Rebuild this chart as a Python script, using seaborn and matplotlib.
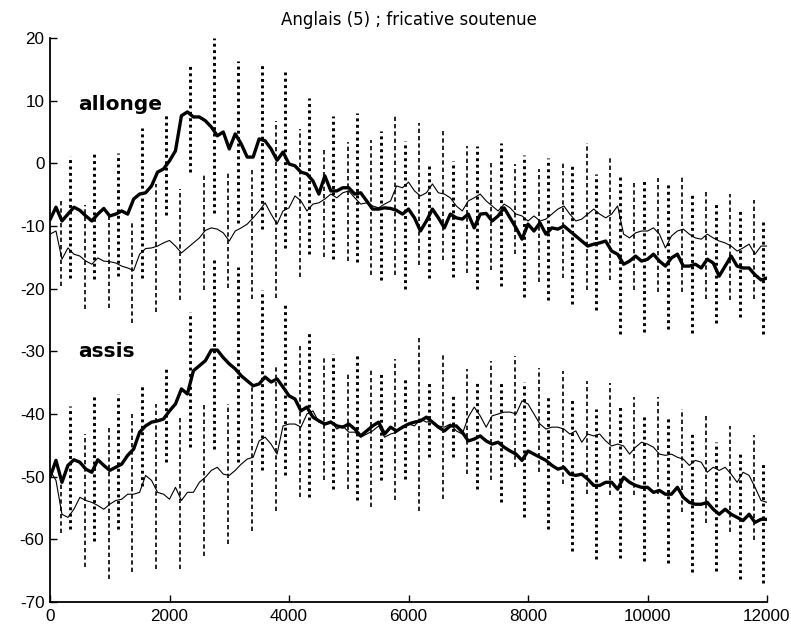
import numpy as np
import pandas as pd
import seaborn as sns
import matplotlib
matplotlib.use("Agg")
import matplotlib.pyplot as plt

# ---------------- data ----------------
freq = list(range(0, 12001, 100))

allonge_thick = [
    -9, -7, -9.2, -8.1, -7, -7.5, -8.4, -9.2, -8.1, -7.2,
    -8.4, -8.1, -7.6, -8.1, -5.7, -4.9, -4.7, -3.6, -1.4, -0.9,
    0.4, 2, 7.6, 8.2, 7.4, 7.4, 6.8, 5.8, 4.4, 5,
    2.3, 4.7, 3.1, 1, 1, 3.9, 3.6, 2.3, 0.5, 1.8,
    -0.1, -0.4, -1.4, -1.7, -2.8, -4.9, -2, -4.4, -4.4, -3.9,
    -3.9, -4.9, -4.7, -6, -7.3, -7.3, -7.1, -7.2, -7.5, -8.1,
    -7.3, -8.7, -10.8, -9.2, -7.3, -8.7, -10.3, -8.1, -8.7, -8.9,
    -8.1, -10.3, -8.1, -8, -9.2, -8.4, -7.1, -8.7, -10.3, -12.1,
    -9.7, -10.8, -9.5, -11.3, -10.3, -10.5, -10, -10.8, -11.6, -12.4,
    -13.2, -12.9, -12.7, -12.4, -14, -14.5, -16.1, -15.6, -14.8, -15.6,
    -15.3, -14.5, -15.6, -16.4, -15.1, -14.5, -16.4, -16.4, -16.1, -16.7,
    -15.3, -15.9, -18, -16.4, -14.8, -16.4, -16.7, -16.7, -17.8, -18.6,
    -18.3,
]
allonge_thin = [
    -11.3, -10.8, -15.3, -13.5, -14.5, -14.8, -15.6, -16.1, -15.1, -15.6,
    -15.7, -15.9, -16.4, -16.7, -17.1, -14.5, -13.6, -13.5, -13.2, -12.7,
    -12.3, -13.2, -14.3, -13.5, -12.7, -11.9, -10.7, -10.3, -10.5, -11.1,
    -12.4, -10.8, -10.3, -9.7, -8.7, -7.6, -6.3, -8.1, -9.7, -7.6,
    -7.1, -5.2, -6, -7.6, -6.5, -6.3, -5.7, -4.9, -5.5, -4.7,
    -4.4, -5.5, -6.5, -6.3, -6.8, -7.1, -6.5, -6, -3.6, -3.9,
    -3, -4.4, -5.2, -4.7, -3.3, -4.7, -4.9, -5.5, -6.8, -7.6,
    -6, -5.5, -4.9, -6, -6.8, -7.6, -6.5, -7.1, -8.1, -8.4,
    -9.2, -8.4, -9.2, -8.9, -8.1, -7.3, -6.8, -8.1, -9.2, -8.9,
    -8.1, -7.3, -8.1, -8.7, -8.1, -6.8, -11.3, -11.9, -11.1, -10.8,
    -10.8, -10.3, -11.3, -13.5, -11.6, -10.8, -10.5, -11.3, -11.9, -12.1,
    -11.3, -11.9, -12.4, -12.7, -13.2, -14, -13.5, -12.9, -14.5, -13.2,
    -13.2,
]
assis_thick = [
    -50.1, -47.4, -50.9, -48.2, -47.3, -47.7, -48.8, -49.3, -47.3, -48.2,
    -49, -48.5, -48, -46.6, -45.6, -42.9, -41.9, -41.3, -41.1, -40.8,
    -39.5, -38.4, -36, -36.8, -33.1, -32.3, -31.5, -29.8, -29.8, -31,
    -32, -32.8, -33.9, -34.7, -35.5, -35.2, -34.1, -34.9, -34.4, -35.7,
    -37.1, -37.6, -39.5, -38.9, -40.5, -41.1, -41.6, -41.3, -41.9, -42.1,
    -41.6, -42.4, -43.5, -42.7, -41.9, -41.3, -43.2, -42.1, -42.7, -42.1,
    -41.6, -41.3, -41.1, -40.5, -41.3, -42.1, -42.7, -41.9, -41.9, -42.9,
    -44.3, -44, -43.5, -44.3, -44.8, -44.5, -45.3, -45.9, -46.4, -47.4,
    -45.9, -46.4, -46.9, -47.4, -48.2, -48.8, -48.5, -49.6, -49.8, -49.6,
    -50.4, -51.4, -51.4, -50.9, -50.9, -52, -50.1, -50.9, -51.4, -51.7,
    -51.7, -52.5, -52.2, -52.8, -52.8, -51.7, -53.3, -54.1, -54.4, -54.4,
    -54.1, -55.2, -56, -55.2, -56, -56.5, -57, -56, -57.3, -56.8,
    -56.8,
]
assis_thin = [
    -49, -50.6, -56, -56.5, -55.2, -53.3, -53.8, -54.1, -54.6, -55.2,
    -54.4, -53.8, -53.6, -52.8, -52.8, -52.5, -49.8, -50.6, -52.5, -52.8,
    -53.6, -51.7, -53.8, -52.5, -52.5, -50.9, -50.1, -49, -48.5, -49.6,
    -49.8, -49, -48, -47.2, -46.9, -44.3, -43.7, -44.8, -46.4, -41.9,
    -41.6, -41.6, -42.1, -40, -39.5, -41.3, -41.6, -41.1, -42.4, -41.9,
    -42.9, -42.9, -43.7, -43.2, -42.7, -41.9, -43.7, -43.2, -42.9, -42.1,
    -41.6, -41.9, -40.8, -41.3, -41.1, -41.9, -42.1, -41.6, -42.7, -43.2,
    -40.5, -38.9, -40.3, -42.1, -40.3, -40, -39.7, -39.7, -40, -37.9,
    -38.4, -40, -41.6, -42.4, -42.1, -42.1, -42.4, -43.2, -42.7, -44.5,
    -43.2, -43.5, -43.2, -44.3, -45.1, -44.8, -45.1, -46.4, -45.3, -44.5,
    -44.8, -45.3, -46.4, -46.6, -46.4, -46.9, -47.2, -48.2, -47.4, -47.7,
    -49.3, -48.5, -49, -48.5, -49.6, -50.9, -49.3, -49.8, -51.7, -53.8,
    -54.1,
]

# error bar positions
bar_x_thick = [340, 740, 1140, 1540, 1940, 2340, 2740, 3140, 3540, 3940,
               4340, 4740, 5140, 5540, 5940, 6340, 6740, 7140, 7540, 7940,
               8340, 8740, 9140, 9540, 9940, 10340, 10740, 11140, 11540, 11940]
bar_x_thin = [180, 580, 980, 1380, 1780, 2180, 2580, 2980, 3380, 3780,
              4180, 4580, 4980, 5380, 5780, 6180, 6580, 6980, 7380, 7780,
              8180, 8580, 8980, 9380, 9780, 10180, 10580, 10980, 11380, 11780]

allonge_thick_lo = [-18.3, -18.4, -17.9, -18.3, -8.2, -1.4, -8, -9.5, -10.5, -13.5,
                    -14.4, -15.2, -15.7, -18.6, -20, -18.3, -18.2, -20, -19.6, -21.3,
                    -21.8, -22.4, -23.4, -27.2, -26.9, -26.5, -27, -25.5, -24.5, -27.2]
allonge_thick_hi = [1.2, 1.9, 1.7, 5.7, 8.0, 16, 20, 16.4, 16, 14.5,
                    10.5, 7.5, 8.1, 5.2, 3.6, 0, 0.3, 2.7, 3.2, 1.4,
                    0.9, 0.05, -1.7, -1.7, -2.3, -3.1, -4.9, -6.3, -7.3, -9.2]
allonge_thin_lo = [-19.5, -23.3, -23.1, -25.5, -23.7, -21.8, -20.2, -19.9, -21.6, -21.5,
                   -18.2, -15, -15.6, -17.8, -17.8, -16.2, -15.4, -17.5, -17, -14.5,
                   -18.9, -18.3, -20.2, -18.6, -20.2, -20.5, -20.5, -21.6, -21.8, -21.6]
allonge_thin_hi = [-5.8, -6.6, -8.4, -9.5, -3.3, -4.1, -1.9, -1.5, -0.6, 6.8,
                   5.5, 2.6, 3.4, 3.7, 7.5, 6.4, 5.1, 2.7, 0.3, -0.1,
                   -0.9, 0.4, 3.2, 1.2, -2.8, -2.3, -2, -4.4, -4.9, -5.8]
assis_thick_lo = [-58.3, -60.3, -58.3, -51.5, -47.6, -45.3, -45.6, -47.7, -49, -49.8,
                  -53.3, -52, -53.8, -50.6, -50.4, -46.9, -46.9, -52, -54.1, -56.4,
                  -58.3, -61.9, -63.1, -63, -63.5, -63.8, -65.2, -65, -66.3, -67]
assis_thick_hi = [-38.8, -36.8, -36.8, -35.6, -32.4, -23.7, -15, -16.5, -20.2, -22.1,
                  -26.8, -30.4, -30.4, -33.2, -34.1, -34.9, -37.1, -34.9, -34.9, -34.9,
                  -37.3, -37.3, -39.2, -38.4, -40, -40.5, -42.9, -44.5, -46, -47.6]
assis_thin_lo = [-59, -64.4, -66.3, -65.2, -64.8, -64.8, -62.6, -60.7, -58.6, -55.4,
                 -53.3, -50.5, -52, -54.9, -53.8, -55.4, -53.6, -49.6, -50.6, -48.5,
                 -49.3, -51.2, -52.8, -53, -53, -52.8, -55.6, -57.4, -58.8, -60.1]
assis_thin_hi = [-50, -43.2, -41.9, -40, -38.4, -40.5, -38.5, -38.4, -35.5, -32.3,
                 -28.8, -30.7, -33.6, -32.8, -31.2, -27.5, -30.4, -32.8, -31.5, -30.7,
                 -32.6, -33.1, -34.7, -35, -37.3, -37.3, -39.2, -40, -41.9, -43.4]

title_text = "Anglais (5) ; fricative soutenue"
group_labels = ["allonge", "assis"]
x_ticks = [0, 2000, 4000, 6000, 8000, 10000, 12000]
y_ticks = [-70, -60, -50, -40, -30, -20, -10, 0, 10, 20]

# ---------------- style ----------------
sns.set_theme(style="ticks")
plt.rcParams["font.family"] = ["Liberation Sans", "DejaVu Sans"]
plt.rcParams["axes.unicode_minus"] = False
plt.rcParams["text.color"] = "black"

fig = plt.figure(figsize=(7.91, 6.26), dpi=100)
ax = fig.add_axes([50 / 791, 1 - 602 / 626, 717 / 791, 564 / 626])
ax.set_facecolor("white")
fig.patch.set_facecolor("white")

# error bars
dot_style = (0, (1, 1.2))
dash_style = (0, (2.6, 1.8))
for lo, hi in [(allonge_thick_lo, allonge_thick_hi), (assis_thick_lo, assis_thick_hi)]:
    ax.vlines(bar_x_thick, lo, hi, colors="black", linestyles=[dot_style],
              linewidth=2.1, zorder=1)
for lo, hi in [(allonge_thin_lo, allonge_thin_hi), (assis_thin_lo, assis_thin_hi)]:
    ax.vlines(bar_x_thin, lo, hi, colors="black", linestyles=[dash_style],
              linewidth=1.2, zorder=1)

# lines
df = pd.DataFrame({
    "freq": freq,
    "allonge_thick": allonge_thick,
    "allonge_thin": allonge_thin,
    "assis_thick": assis_thick,
    "assis_thin": assis_thin,
})
for col, lw in [("allonge_thin", 0.8), ("assis_thin", 0.8),
                ("allonge_thick", 2.4), ("assis_thick", 2.4)]:
    sns.lineplot(data=df, x="freq", y=col, ax=ax, color="black",
                 linewidth=lw, estimator=None, sort=False, zorder=3)

ax.text(470, 8.5, group_labels[0], fontsize=14.5, fontweight="bold",
        family="DejaVu Sans", va="baseline", ha="left", color="black")
ax.text(470, -30.9, group_labels[1], fontsize=14.5, fontweight="bold",
        family="DejaVu Sans", va="baseline", ha="left", color="black")

ax.set_xlim(0, 12000)
ax.set_ylim(-70, 20)
ax.set_xticks(x_ticks)
ax.set_yticks(y_ticks)
ax.set_xticklabels([str(t) for t in x_ticks])
ax.set_yticklabels([str(t) for t in y_ticks])
ax.set_xlabel("")
ax.set_ylabel("")
ax.tick_params(direction="in", length=5, width=1, labelsize=12.3, pad=4,
               colors="black", labelcolor="black")
ax.tick_params(axis="x", pad=5)
for s in ["top", "right"]:
    ax.spines[s].set_visible(False)
for s in ["left", "bottom"]:
    ax.spines[s].set_linewidth(1.3)
    ax.spines[s].set_color("black")
ax.grid(False)

ax.set_title(title_text, fontsize=12, family="DejaVu Sans", pad=9, color="black")

fig.savefig("out.png", dpi=100, facecolor="white")
